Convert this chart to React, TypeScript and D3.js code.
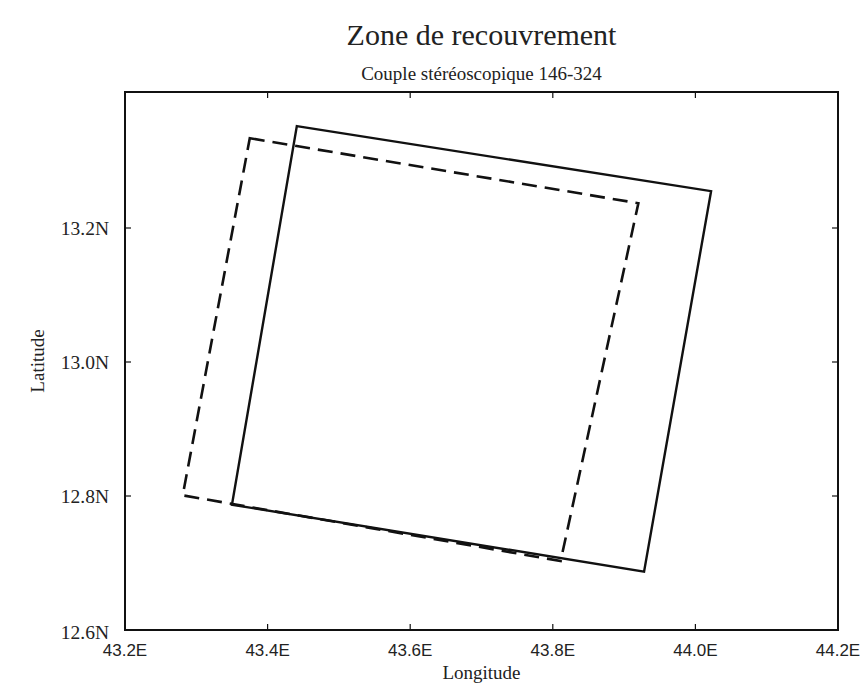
import React, { useRef, useEffect } from "react";
import * as d3 from "d3";

// footprints of the two scenes (lon, lat)
const solidLon = [43.441, 44.022, 43.928, 43.35];
const solidLat = [13.352, 13.255, 12.687, 12.787];
const dashedLon = [43.375, 43.92, 43.811, 43.281];
const dashedLat = [13.334, 13.237, 12.703, 12.801];

const lonTicks = [43.2, 43.4, 43.6, 43.8, 44.0, 44.2];
const latTicks = [12.6, 12.8, 13.0, 13.2];

const title = "Zone de recouvrement";
const subtitle = "Couple stéréoscopique 146-324";

export default function App() {
  const ref = useRef<SVGSVGElement>(null);

  useEffect(() => {
    if (!ref.current) return;
    const svg = d3.select(ref.current);
    svg.selectAll("*").remove();

    const left = 125, right = 838, top = 92, bottom = 630;
    const x = d3.scaleLinear().domain([43.2, 44.2]).range([left, right]);
    const y = d3.scaleLinear().domain([12.6, 13.4]).range([bottom, 94]);

    svg.append("text")
      .attr("x", (left + right) / 2).attr("y", 45)
      .attr("text-anchor", "middle")
      .style("font-family", "'Liberation Serif', serif")
      .style("font-size", "30px")
      .attr("fill", "#222")
      .text(title);

    svg.append("text")
      .attr("x", (left + right) / 2).attr("y", 80)
      .attr("text-anchor", "middle")
      .style("font-family", "'Liberation Serif', serif")
      .style("font-size", "19px")
      .attr("fill", "#222")
      .text(subtitle);

    // frame
    svg.append("rect")
      .attr("x", left).attr("y", top)
      .attr("width", right - left).attr("height", bottom - top)
      .attr("fill", "none").attr("stroke", "#111").attr("stroke-width", 2);

    const tk = 6;
    const g = svg.append("g").attr("stroke", "#111").attr("stroke-width", 1.2);
    lonTicks.slice(1, -1).forEach((v) => {
      g.append("line").attr("x1", x(v)).attr("x2", x(v)).attr("y1", bottom).attr("y2", bottom - tk);
      g.append("line").attr("x1", x(v)).attr("x2", x(v)).attr("y1", top).attr("y2", top + tk);
    });
    latTicks.slice(1).forEach((v) => {
      g.append("line").attr("x1", left).attr("x2", left + tk).attr("y1", y(v)).attr("y2", y(v));
      g.append("line").attr("x1", right).attr("x2", right - tk).attr("y1", y(v)).attr("y2", y(v));
    });

    lonTicks.forEach((v) => {
      svg.append("text")
        .attr("x", x(v)).attr("y", bottom + 26)
        .attr("text-anchor", "middle")
        .style("font-family", "'Liberation Sans', sans-serif")
        .style("font-size", "17px")
        .attr("fill", "#222")
        .text(v.toFixed(1) + "E");
    });
    latTicks.forEach((v) => {
      svg.append("text")
        .attr("x", 109).attr("y", y(v) + (v === 12.6 ? 9 : 7))
        .attr("text-anchor", "end")
        .style("font-family", "'Liberation Serif', serif")
        .style("font-size", "19.5px")
        .attr("fill", "#222")
        .text(v.toFixed(1) + "N");
    });

    svg.append("text")
      .attr("x", (left + right) / 2).attr("y", 679)
      .attr("text-anchor", "middle")
      .style("font-family", "'Liberation Serif', serif")
      .style("font-size", "19px")
      .attr("fill", "#222")
      .text("Longitude");

    svg.append("text")
      .attr("transform", `translate(44,${(top + bottom) / 2}) rotate(-90)`)
      .attr("text-anchor", "middle")
      .style("font-family", "'Liberation Serif', serif")
      .style("font-size", "19px")
      .attr("fill", "#222")
      .text("Latitude");

    let lonOf = (i: number) => solidLon[i];
    let latOf = (i: number) => solidLat[i];
    const line = d3.line<number>()
      .x((i) => x(lonOf(i)))
      .y((i) => y(latOf(i)))
      .curve(d3.curveLinearClosed);

    svg.append("path")
      .attr("d", line([0, 1, 2, 3]))
      .attr("fill", "none").attr("stroke", "#111").attr("stroke-width", 2.4);

    lonOf = (i: number) => dashedLon[i];
    latOf = (i: number) => dashedLat[i];
    svg.append("path")
      .attr("d", line([0, 1, 2, 3]))
      .attr("fill", "none").attr("stroke", "#111").attr("stroke-width", 2.6)
      .attr("stroke-dasharray", "15 8");
  }, []);

  return (
    <svg
      ref={ref}
      width={864}
      height={683}
      style={{ position: "absolute", left: 0, top: 0, background: "#fff" }}
    />
  );
}
